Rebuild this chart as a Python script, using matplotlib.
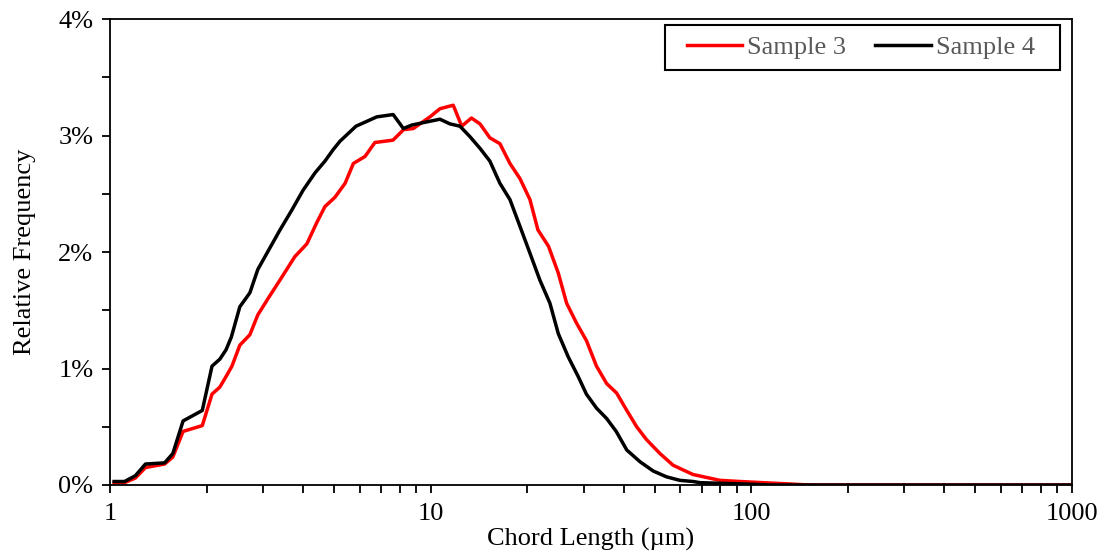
import numpy as np
import matplotlib
matplotlib.use('Agg')
import matplotlib.pyplot as plt
from matplotlib.patches import Rectangle
from matplotlib.ticker import FuncFormatter, MultipleLocator, LogLocator, NullFormatter

plt.rcParams['font.family'] = ['Liberation Serif', 'DejaVu Serif']

# Sample 3 (chord length um, relative frequency %)
x_s3 = [1.03, 1.11, 1.20, 1.29, 1.48, 1.57, 1.69, 1.94, 2.08, 2.20, 2.30, 2.40,
        2.54, 2.73, 2.89, 3.11, 3.39, 3.77, 4.11, 4.41, 4.68, 5.03, 5.41, 5.74,
        6.24, 6.70, 7.63, 8.23, 8.83, 9.95, 10.69, 11.76, 12.5, 13.4, 14.25,
        15.3, 16.44, 17.67, 18.99, 20.4, 21.6, 23.3, 25.0, 26.55, 28.5, 30.6,
        32.9, 35.4, 38.0, 40.9, 43.9, 47.1, 51.9, 57.0, 61.2, 65.8, 79.8, 92.2,
        108.6, 129.0, 152.0, 1000.0]
y_s3 = [0.02, 0.02, 0.06, 0.15, 0.18, 0.24, 0.46, 0.51, 0.78, 0.84, 0.93, 1.02,
        1.20, 1.29, 1.46, 1.60, 1.76, 1.96, 2.07, 2.25, 2.39, 2.47, 2.59, 2.76,
        2.82, 2.94, 2.96, 3.05, 3.06, 3.16, 3.23, 3.26, 3.08, 3.15, 3.10,
        2.98, 2.93, 2.76, 2.63, 2.45, 2.19, 2.05, 1.82, 1.56, 1.39, 1.24,
        1.02, 0.87, 0.79, 0.64, 0.50, 0.39, 0.27, 0.17, 0.13, 0.09, 0.04, 0.03,
        0.02, 0.01, 0.0, 0.0]

# Sample 4
x_s4 = [1.03, 1.11, 1.20, 1.29, 1.48, 1.57, 1.69, 1.94, 2.08, 2.20, 2.30, 2.39,
        2.54, 2.73, 2.89, 3.13, 3.39, 3.69, 4.00, 4.36, 4.68, 4.97, 5.21, 5.85,
        6.79, 7.64, 8.22, 8.74, 9.46, 10.69, 11.48, 12.34, 13.26, 14.25, 15.3,
        16.44, 17.67, 18.99, 20.4, 21.9, 23.55, 25.0, 26.85, 28.86, 30.6, 32.9,
        35.4, 37.9, 40.9, 44.95, 49.45, 54.4, 59.9, 65.8, 69.2, 92.0, 115.0, 1000.0]
y_s4 = [0.03, 0.03, 0.08, 0.18, 0.19, 0.27, 0.55, 0.64, 1.02, 1.08, 1.16, 1.27,
        1.53, 1.65, 1.85, 2.02, 2.19, 2.36, 2.53, 2.68, 2.78, 2.88, 2.95, 3.08,
        3.16, 3.18, 3.06, 3.09, 3.11, 3.14, 3.10, 3.08, 2.99, 2.89, 2.78,
        2.59, 2.45, 2.22, 1.99, 1.76, 1.56, 1.30, 1.10, 0.93, 0.78, 0.66,
        0.57, 0.46, 0.30, 0.20, 0.12, 0.07, 0.04, 0.03, 0.02, 0.01, 0.0, 0.0]

fig = plt.figure(figsize=(11.09, 5.56), dpi=100)
ax = fig.add_axes([0.0992, 0.1277, 0.8674, 0.8381])

ax.plot(x_s3, y_s3, color='#ff0000', lw=2.5, label='Sample 3', solid_joinstyle='round')
ax.plot(x_s4, y_s4, color='black', lw=2.5, label='Sample 4', solid_joinstyle='round')

ax.set_xscale('log')
ax.set_xlim(1, 1000)
ax.set_ylim(0, 4)

ax.xaxis.set_major_locator(LogLocator(base=10))
ax.xaxis.set_minor_locator(LogLocator(base=10, subs=np.arange(2, 10)))
ax.xaxis.set_minor_formatter(NullFormatter())
ax.xaxis.set_major_formatter(FuncFormatter(lambda v, p: '%g' % v))

ax.yaxis.set_major_locator(MultipleLocator(1))
ax.yaxis.set_minor_locator(MultipleLocator(0.5))
ax.yaxis.set_major_formatter(FuncFormatter(lambda v, p: '%d%%' % round(v)))

ax.tick_params(which='both', direction='out', length=6, width=1.3, labelsize=19, colors='black')
ax.tick_params(axis='x', pad=7)
ax.tick_params(axis='y', pad=6)

for s in ax.spines.values():
    s.set_linewidth(1.3)

ax.set_xlabel('Chord Length (µm)', fontsize=19, labelpad=2)
ax.set_ylabel('Relative Frequency', fontsize=19, labelpad=16)

# legend without its own frame, box drawn separately (wider padding left/right)
leg = ax.legend(loc='center right', ncol=2, fontsize=19, frameon=False,
                borderpad=0.3, handlelength=2.1, columnspacing=1.1,
                handletextpad=0.2, borderaxespad=0, bbox_to_anchor=(0.970, 0.9388))
for t in leg.get_texts():
    t.set_color('#595959')
ax.add_patch(Rectangle((0.577, 0.8906), 0.4105, 0.0964, transform=ax.transAxes,
                       fill=False, edgecolor='black', lw=1.5, zorder=5, clip_on=False))

fig.savefig('out.png', dpi=100)
